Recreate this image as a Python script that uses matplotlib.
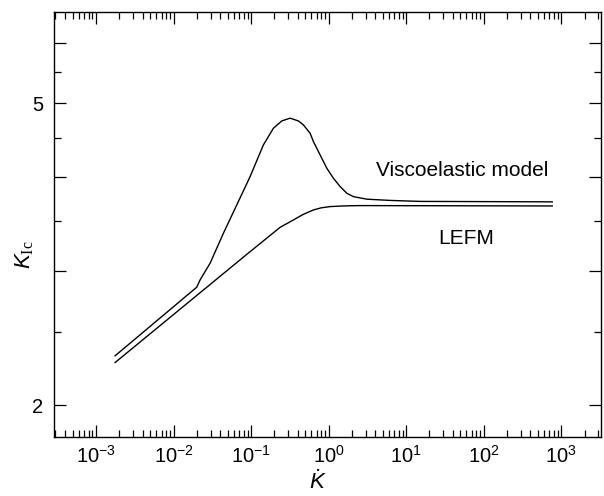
import matplotlib
matplotlib.use("Agg")
import matplotlib.pyplot as plt
from matplotlib.ticker import LogLocator, FixedLocator, FixedFormatter, NullFormatter, LogFormatterSciNotation

plt.rcParams['font.family'] = 'Liberation Sans'
plt.rcParams['mathtext.fontset'] = 'custom'
plt.rcParams['mathtext.it'] = 'Liberation Sans:italic'
plt.rcParams['mathtext.rm'] = 'Liberation Serif'

# Viscoelastic model curve (K-dot, K_Ic)
visco_x = [1.76e-3, 0.0199, 0.0220, 0.0296, 0.0440, 0.0654, 0.0971, 0.1441,
           0.1940, 0.2489, 0.3186, 0.4076, 0.4730, 0.5771, 0.6366, 0.7770,
           0.9480, 1.153, 1.407, 1.718, 2.089, 3.112, 6.22, 15.2, 766]
visco_y = [2.322, 2.860, 2.924, 3.076, 3.370, 3.672, 4.001, 4.405,
           4.634, 4.738, 4.778, 4.738, 4.681, 4.564, 4.450, 4.273,
           4.104, 3.981, 3.882, 3.804, 3.765, 3.736, 3.722, 3.711, 3.706]

# LEFM curve
lefm_x = [1.76e-3, 0.0971, 0.2367, 0.352, 0.469, 0.637, 0.800, 1.045,
          1.63, 2.55, 766]
lefm_y = [2.275, 3.186, 3.430, 3.508, 3.567, 3.616, 3.639, 3.653,
          3.661, 3.664, 3.660]

x_major = [1e-3, 1e-2, 1e-1, 1e0, 1e1, 1e2, 1e3]
y_major = [2, 3, 4, 5, 6]
y_major_labels = ['2', '', '', '5', '']
y_minor = [2.5, 3.5, 4.5, 5.5]

fig = plt.figure(figsize=(6.04, 4.96), dpi=100)
ax = fig.add_axes([0.0894, 0.119, 0.906, 0.857])

ax.plot(visco_x, visco_y, color='black', linewidth=1.0)
ax.plot(lefm_x, lefm_y, color='black', linewidth=1.0)

ax.set_xscale('log')
ax.set_yscale('log')
ax.set_xlim(2.87e-4, 3281)
ax.set_ylim(1.815, 6.597)

ax.xaxis.set_major_locator(FixedLocator(x_major))
ax.xaxis.set_major_formatter(LogFormatterSciNotation())
ax.xaxis.set_minor_locator(LogLocator(base=10, subs=range(2, 10), numticks=20))
ax.xaxis.set_minor_formatter(NullFormatter())

ax.yaxis.set_major_locator(FixedLocator(y_major))
ax.yaxis.set_major_formatter(FixedFormatter(y_major_labels))
ax.yaxis.set_minor_locator(FixedLocator(y_minor))
ax.yaxis.set_minor_formatter(NullFormatter())

ax.tick_params(which='both', direction='in', top=True, right=True,
               width=0.9, labelsize=14.5, color='black')
ax.tick_params(which='major', length=8.5)
ax.tick_params(which='minor', length=5)
ax.tick_params(axis='x', which='major', pad=6)
ax.tick_params(axis='y', which='major', pad=8)

for s in ax.spines.values():
    s.set_linewidth(1.0)

ax.text(0.7468, 0.626, 'Viscoelastic model', transform=ax.transAxes,
        ha='center', va='center', fontsize=15)
ax.text(0.7526, 0.4659, 'LEFM', transform=ax.transAxes,
        ha='center', va='center', fontsize=15)

ax.text(-0.053, 0.428, r'$\mathit{K}_{\mathrm{Ic}}$', transform=ax.transAxes,
        ha='center', va='center', rotation=90, fontsize=16)
ax.text(0.4826, -0.106, r'$\dot{\mathit{K}}$', transform=ax.transAxes,
        ha='center', va='center', fontsize=16)

fig.savefig('out.png', dpi=100)
